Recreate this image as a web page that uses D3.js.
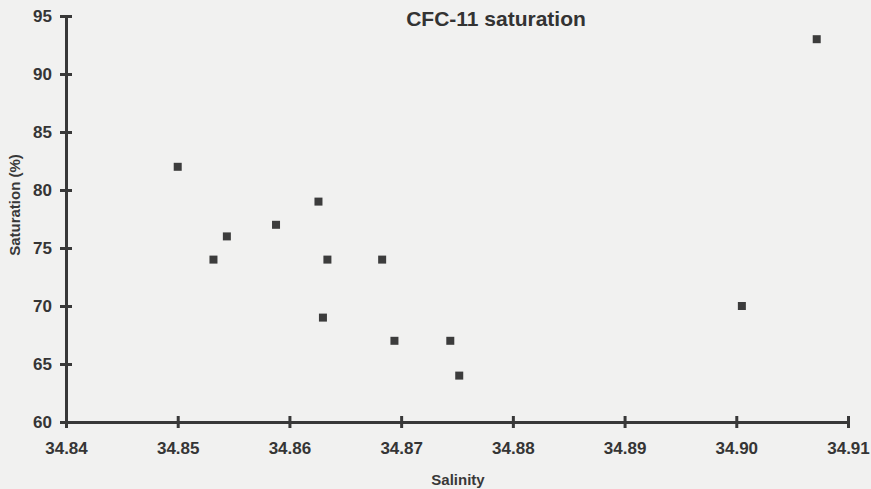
<!DOCTYPE html>
<html>
<head>
<meta charset="utf-8">
<script src="https://cdn.jsdelivr.net/npm/d3@7"></script>
<style>
    body { margin: 0; background: #f1f1f0; }
    svg { display: block; font-family: "Liberation Sans", Arial, Helvetica, sans-serif; font-weight: bold; }
    .axis path, .axis line { stroke: #383838; stroke-width: 3px; }
    .axis text { fill: #353535; font-size: 17px; font-weight: bold; font-family: "Liberation Sans", Arial, sans-serif; }
</style>
</head>
<body>
<svg id="chart" width="871" height="489"></svg>
<script>

// Salinity / CFC-11 saturation pairs
let salinity   = [34.850, 34.8532, 34.8544, 34.8588, 34.8626, 34.8634, 34.8630, 34.8683, 34.8694, 34.8744, 34.8752, 34.9005, 34.9072];
let saturation = [82, 74, 76, 77, 79, 74, 69, 74, 67, 67, 64, 70, 93];

let xTicks = [34.84, 34.85, 34.86, 34.87, 34.88, 34.89, 34.90, 34.91];
let yTicks = [60, 65, 70, 75, 80, 85, 90, 95];

let scatter = {
    margins : { top: 16, right: 23, bottom: 67, left: 66 },
    width : 0,
    height : 0,
    xAxis : null,
    yAxis : null,
    visualisation : null
};

let svg = d3.select("#chart");
scatter.width = 871 - scatter.margins.left - scatter.margins.right;
scatter.height = 489 - scatter.margins.top - scatter.margins.bottom;
scatter.visualisation = svg.append("g")
    .attr("transform", "translate(" + scatter.margins.left + "," + scatter.margins.top + ")");

scatter.xAxis = d3.scaleLinear()
    .domain([34.84, 34.91])
    .range([0, scatter.width]);

scatter.yAxis = d3.scaleLinear()
    .domain([60, 95])
    .range([scatter.height, 0]);

// Axes: ticks cross the line on both sides
scatter.visualisation.append("g")
    .attr("class", "axis")
    .attr("transform", "translate(0," + scatter.height + ")")
    .call(d3.axisBottom(scatter.xAxis)
        .tickValues(xTicks)
        .tickSizeInner(6)
        .tickSizeOuter(0)
        .tickPadding(14)
        .tickFormat(d3.format(".2f")))
    .call(g => g.selectAll(".tick line").attr("y1", -6));

scatter.visualisation.append("g")
    .attr("class", "axis")
    .call(d3.axisLeft(scatter.yAxis)
        .tickValues(yTicks)
        .tickSizeInner(6)
        .tickSizeOuter(0)
        .tickPadding(8)
        .tickFormat(d3.format("d")))
    .call(g => g.selectAll(".tick line").attr("x1", 6));

// Square markers
let data = salinity.map(function (s, i) {
    return {salinity: s, saturation: saturation[i]};
});

scatter.visualisation.append("g")
    .selectAll("rect")
    .data(data)
    .enter()
    .append("rect")
    .attr("x", function(d) { return scatter.xAxis(d.salinity) - 4 })
    .attr("y", function(d) { return scatter.yAxis(d.saturation) - 4 })
    .attr("width", 8)
    .attr("height", 8)
    .style("fill", "#3c3c3c");

// Title and axis labels
svg.append("text")
    .attr("x", 496)
    .attr("y", 26)
    .attr("text-anchor", "middle")
    .style("font-size", "21px")
    .style("fill", "#333")
    .text("CFC-11 saturation");

svg.append("text")
    .attr("x", 458)
    .attr("y", 485)
    .attr("text-anchor", "middle")
    .style("font-size", "15px")
    .style("fill", "#383838")
    .text("Salinity");

svg.append("text")
    .attr("transform", "translate(20,205) rotate(-90)")
    .attr("text-anchor", "middle")
    .style("font-size", "15px")
    .style("fill", "#383838")
    .text("Saturation (%)");

</script>
</body>
</html>
